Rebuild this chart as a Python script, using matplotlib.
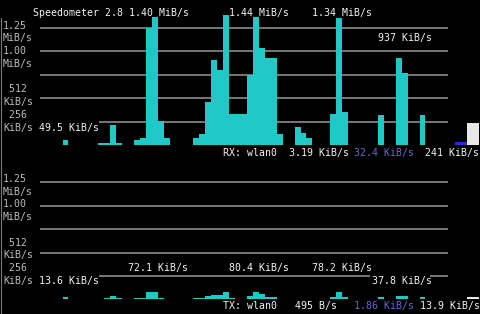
import matplotlib
matplotlib.use("Agg")
import matplotlib.pyplot as plt
from matplotlib.lines import Line2D

# ---------------- data (KiB/s) ----------------
rx_cols = [10, 16, 17, 18, 19, 22, 23, 24, 25, 26, 27, 32, 33, 34, 35, 36, 37, 38, 39, 40,
           41, 42, 43, 44, 45, 46, 49, 50, 51, 55, 56, 57, 63, 66, 67, 70]
rx_kib = [55, 25, 25, 219, 25, 55, 80, 1281, 1405, 263, 80, 77, 120, 474, 931, 821, 1424, 339, 339, 339,
          767, 1405, 1062, 953, 953, 120, 197, 131, 77, 339, 1391, 361, 329, 953, 788, 329]

tx_cols = [10, 17, 18, 19, 22, 23, 24, 25, 26, 32, 33, 34, 35, 36, 37, 38,
           41, 42, 43, 44, 45, 55, 56, 57, 63, 66, 67, 70]
tx_kib = [20, 18, 39, 18, 18, 18, 77, 77, 18, 9, 18, 36, 42, 42, 77, 18,
          36, 77, 53, 25, 20, 28, 80, 28, 28, 39, 39, 28]

rx_avg_cols, rx_avg_kib = [76, 77], [32.4, 32.4]
rx_cur_cols, rx_cur_kib = [78, 79], [241, 241]
tx_cur_cols, tx_cur_kib = [78, 79], [30, 30]

grid_levels = [256, 512, 768, 1024, 1280]

# ---------------- style ----------------
W, H = 480, 314
BG = "#000000"
CYAN = "#20c8c8"
GRID = "#8c8c8c"
WHITE = "#f4f4f4"
GRAY = "#bcbcbc"
BLUE = "#6a6acd"
FONT = "DejaVu Sans Mono"
FS = 7.1

COL0, COLW = 3.0, 5.95          # pixel x of column 0, column width
PX_PER_KIB = 0.09132
fig = plt.figure(figsize=(W / 100, H / 100), dpi=100, facecolor=BG)

xlim = (-COL0 / COLW, (W - COL0) / COLW)
span_px = 135
ylim = (0, span_px / PX_PER_KIB)


def make_ax(base_px):
    ax = fig.add_axes([0, 1 - base_px / H, 1, span_px / H])
    ax.set_facecolor("none")
    ax.set_xlim(*xlim)
    ax.set_ylim(*ylim)
    ax.axis("off")
    return ax


def colx(px):
    return (px - COL0) / COLW


top = make_ax(145)
bot = make_ax(299.3)

for ax, low_segments in ((top, [(colx(99), colx(448))]),
                         (bot, [(colx(99), colx(370)), (colx(430), colx(448))])):
    for lv in grid_levels:
        segs = low_segments if lv == 256 else [(colx(40), colx(448))]
        for a, b in segs:
            ax.hlines(lv, a, b, color=GRID, lw=1.2, zorder=1)

kw = dict(width=1, align="edge", linewidth=0, antialiased=False, zorder=2)
top.bar(rx_cols, rx_kib, color=CYAN, **kw)
top.bar(rx_avg_cols, rx_avg_kib, color="#2a2ad0", **kw)
top.bar(rx_cur_cols, rx_cur_kib, color="#e8e8e8", **kw)
bot.bar(tx_cols, tx_kib, color=CYAN, **kw)
bot.bar(tx_cur_cols, tx_cur_kib, color="#e8e8e8", **kw)


def put(col, row, s, color=WHITE):
    x = COL0 + COLW * col
    y = 16.0 + 12.75 * row
    fig.text(x / W, 1 - y / H, s, color=color, family=FONT, size=FS,
             ha="left", va="baseline")


# header / peaks
put(5, 0, "Speedometer 2.8 1.40 MiB/s")
put(38, 0, "1.44 MiB/s")
put(52, 0, "1.34 MiB/s")
put(63, 2, "937 KiB/s")
put(6, 9, "49.5 KiB/s")

# y labels both panels
for off in (0, 12):
    put(0, 1 + off, "1.25", GRAY)
    put(0, 2 + off, "MiB/s", GRAY)
    put(0, 3 + off, "1.00", GRAY)
    put(0, 4 + off, "MiB/s", GRAY)
    put(0, 6 + off, " 512", GRAY)
    put(0, 7 + off, "KiB/s", GRAY)
    put(0, 8 + off, " 256", GRAY)
    put(0, 9 + off, "KiB/s", GRAY)

put(37, 11, "RX: wlan0  3.19 KiB/s")
put(59, 11, "32.4 KiB/s", BLUE)
put(71, 11, "241 KiB/s")

put(21, 20, "72.1 KiB/s")
put(38, 20, "80.4 KiB/s")
put(52, 20, "78.2 KiB/s")
put(6, 21, "13.6 KiB/s")
put(62, 21, "37.8 KiB/s")

put(37, 23, "TX: wlan0   495 B/s")
put(59, 23, "1.86 KiB/s", BLUE)
put(70, 23, "13.9 KiB/s")

fig.add_artist(Line2D([0.6 / W, 0.6 / W], [1 - 18 / H, 0], color="#7a7a7a", lw=0.8,
                      transform=fig.transFigure))

fig.savefig("out.png", dpi=100, facecolor=BG)
